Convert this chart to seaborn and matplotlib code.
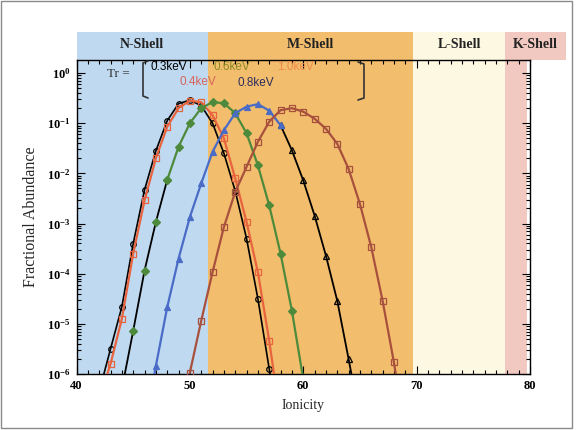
import numpy as np
import seaborn as sns
import matplotlib.pyplot as plt
import matplotlib.transforms as mtransforms
from matplotlib.patches import Rectangle
from matplotlib.lines import Line2D
from matplotlib.ticker import MultipleLocator, LogLocator, FuncFormatter, NullFormatter

sns.set_style("ticks")
plt.rcParams['font.family'] = ['Liberation Serif', 'DejaVu Serif']
plt.rcParams['mathtext.fontset'] = 'custom'
plt.rcParams['mathtext.bf'] = 'Liberation Serif:bold'
plt.rcParams['mathtext.rm'] = 'Liberation Serif'

# Ion fractions (log10 of fractional abundance) per radiation temperature
ion_03 = list(range(42, 59))
log_03 = [-6.35, -5.5, -4.66, -3.4, -2.33, -1.55, -0.95, -0.61, -0.54, -0.65,
          -1.0, -1.6, -2.35, -3.3, -4.5, -5.9, -7.2]

ion_04 = list(range(42, 59))
log_04 = [-6.5, -5.8, -4.9, -3.6, -2.54, -1.7, -1.07, -0.7, -0.55, -0.58,
          -0.84, -1.3, -2.1, -2.97, -3.97, -5.34, -6.9]

ion_06 = list(range(44, 61))
log_06 = [-6.3, -5.14, -3.94, -2.97, -2.13, -1.47, -1.0, -0.7, -0.58, -0.6,
          -0.8, -1.2, -1.84, -2.64, -3.6, -4.74, -6.1]

ion_08 = list(range(46, 66))
log_08 = [-7.1, -5.84, -4.67, -3.7, -2.87, -2.2, -1.57, -1.14, -0.8, -0.67,
          -0.62, -0.75, -1.04, -1.54, -2.14, -2.84, -3.64, -4.54, -5.7, -6.9]

ion_10 = list(range(49, 70))
log_10 = [-7.1, -5.97, -4.94, -3.97, -3.07, -2.37, -1.87, -1.37, -0.97, -0.74,
          -0.7, -0.77, -0.91, -1.11, -1.41, -1.91, -2.61, -3.47, -4.54, -5.77, -7.2]

tr_labels = ["0.3keV", "0.4keV", "0.6keV", "0.8keV", "1.0keV"]

shell_names = ["N-Shell", "M-Shell", "L-Shell", "K-Shell"]
shell_edges = [40, 51.6, 69.7, 77.8, 79.7]
shell_colors = ["#bed9f0", "#f2bd6c", "#fdf8e2", "#f1c9c0"]

fig = plt.figure(figsize=(5.77, 4.30), dpi=100)
ax = fig.add_axes([0.1326, 0.1302, 0.7859, 0.7314])
ax.set_yscale('log')

# shell shading inside the axes and label strip above it
strip = mtransforms.blended_transform_factory(ax.transData, ax.transAxes)
for i, name in enumerate(shell_names):
    lo, hi = shell_edges[i], shell_edges[i + 1]
    ax.axvspan(lo, hi, color=shell_colors[i], lw=0, zorder=0)
    top_hi = 83.2 if name == "K-Shell" else hi
    ax.add_patch(Rectangle((lo, 1.0), top_hi - lo, 0.0874, transform=strip,
                           color=shell_colors[i], lw=0, clip_on=False, zorder=0))
    ax.text((lo + top_hi) / 2, 1.049, name, transform=strip, ha='center', va='center',
            fontsize=10, fontweight='bold', color='#222222')


def draw(x, logy, color, marker, filled, lw=1.6, mcolor=None):
    y = np.power(10.0, logy)
    mcolor = mcolor or color
    sns.lineplot(x=x, y=y, ax=ax, color=color, lw=lw, marker=marker, markersize=4,
                 markerfacecolor=mcolor if filled else 'none', markeredgecolor=mcolor,
                 markeredgewidth=0.9, estimator=None, sort=False, zorder=3)


draw(ion_03, log_03, 'black', 'o', False, lw=1.2)
draw(ion_04, log_04, '#e8643e', 's', False)
# 0.6 keV: black line on the low side, green above
draw(ion_06[:5], log_06[:5], 'black', 'D', True, lw=1.3, mcolor='#4d8a3c')
draw(ion_06[4:], log_06[4:], '#4d8a3c', 'D', True)
# 0.8 keV: blue rising side, black falling side
draw(ion_08[12:], log_08[12:], 'black', '^', False, lw=1.3)
draw(ion_08[:13], log_08[:13], '#4a6bc6', '^', True)
draw(ion_10, log_10, '#a8503e', 's', False)

ax.set_xlim(40, 80)
ax.set_ylim(1e-6, 10 ** 0.27)
ax.xaxis.set_major_locator(MultipleLocator(10))
ax.xaxis.set_minor_locator(MultipleLocator(1))
ax.yaxis.set_major_locator(LogLocator(base=10, numticks=10))
ax.yaxis.set_minor_locator(LogLocator(base=10, subs=np.arange(2, 10), numticks=20))
ax.yaxis.set_minor_formatter(NullFormatter())
ax.yaxis.set_major_formatter(FuncFormatter(lambda v, p: r'$\mathbf{10^{%d}}$' % round(np.log10(v))))
ax.tick_params(which='both', direction='in', top=True, right=True, colors='black', width=0.8)
ax.tick_params(which='major', length=6, labelsize=9, pad=4)
ax.tick_params(which='minor', length=3)
for lab in ax.get_xticklabels():
    lab.set_fontweight('bold')
for s in ax.spines.values():
    s.set_color('black')
    s.set_linewidth(1)

ax.set_xlabel("Ionicity", fontsize=10, labelpad=5)
ax.set_ylabel("Fractional Abundance", fontsize=11.5, labelpad=6)

# Tr legend with brackets
W, H = 577.0, 430.0
fig.text(118 / W, 1 - 74 / H, "Tr =", fontsize=9.5, ha='center', va='center', color='#333333')
tr_pos = [(150, 67), (180, 82), (213, 67), (237, 83), (277, 67)]
tr_colors = ['black', '#d8645c', '#8c8a24', '#2c2c5c', '#f08a4a']
for lab, (px, py), c in zip(tr_labels, tr_pos, tr_colors):
    fig.text(px / W, 1 - py / H, lab, fontsize=8.5, ha='left', va='center', color=c,
             family=['Liberation Sans', 'DejaVu Sans'])
for xs, ys in [([148, 143, 143, 148], [61, 63, 96, 98]),
               ([358, 364, 364, 358], [62, 64, 98, 100])]:
    fig.add_artist(Line2D([v / W for v in xs], [1 - v / H for v in ys],
                          transform=fig.transFigure, color='#333333', lw=1.2))

fig.add_artist(Rectangle((0.002, 0.005), 0.989, 0.993, transform=fig.transFigure,
                         fill=False, edgecolor='#8a8a8a', lw=1))

fig.savefig("out.png", dpi=100)
